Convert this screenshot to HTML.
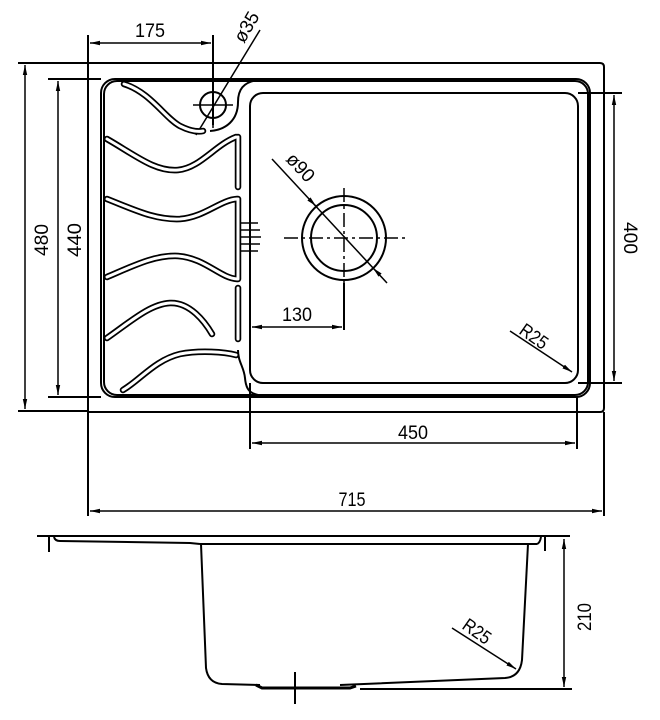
<!DOCTYPE html>
<html><head><meta charset="utf-8"><style>
html,body{margin:0;padding:0;background:#fff;}
svg{display:block;}
text{font-family:"Liberation Sans",sans-serif;font-size:19px;fill:#000;}
</style></head><body>
<svg width="660" height="720" viewBox="0 0 660 720" xmlns="http://www.w3.org/2000/svg">
<defs>
<marker id="a" viewBox="0 0 10 6" refX="10" refY="3" markerWidth="10" markerHeight="6" orient="auto-start-reverse" markerUnits="userSpaceOnUse"><path d="M0,0.8 L10,3 L0,5.2 z" fill="#000"/></marker>
</defs>
<g fill="none" stroke="#000" stroke-width="2">
<path d="M88,63 H600 Q604,63 604,67 V408 Q604,412 600,412 H88 Z"/>
<rect x="101" y="79" width="489" height="318" rx="14"/>
<rect x="104" y="81" width="484" height="314" rx="13"/>
<rect x="250" y="93" width="328" height="290" rx="13"/>
<line x1="18" y1="63" x2="88" y2="63"/>
<line x1="18" y1="411" x2="88" y2="411"/>
<line x1="48" y1="79" x2="101" y2="79"/>
<line x1="48" y1="397" x2="101" y2="397"/>
<line x1="578" y1="93" x2="622" y2="93"/>
<line x1="578" y1="383" x2="622" y2="383"/>
<line x1="88" y1="35" x2="88" y2="63"/>
<line x1="213" y1="35" x2="213" y2="125"/>
<line x1="250" y1="383" x2="250" y2="449"/>
<line x1="577" y1="397" x2="577" y2="449"/>
<line x1="88" y1="412" x2="88" y2="516"/>
<line x1="604" y1="412" x2="604" y2="516"/>
<line x1="344" y1="283" x2="344" y2="330"/>
</g>
<g fill="none" stroke="#000" stroke-width="1.5">
<line x1="25" y1="65" x2="25" y2="409" marker-start="url(#a)" marker-end="url(#a)"/>
<line x1="58" y1="81" x2="58" y2="395" marker-start="url(#a)" marker-end="url(#a)"/>
<line x1="614" y1="95" x2="614" y2="381" marker-start="url(#a)" marker-end="url(#a)"/>
<line x1="90" y1="43" x2="211" y2="43" marker-start="url(#a)" marker-end="url(#a)"/>
<line x1="252" y1="327" x2="342" y2="327" marker-start="url(#a)" marker-end="url(#a)"/>
<line x1="252" y1="443" x2="575" y2="443" marker-start="url(#a)" marker-end="url(#a)"/>
<line x1="90" y1="511" x2="602" y2="511" marker-start="url(#a)" marker-end="url(#a)"/>
<line x1="260" y1="30" x2="196" y2="135"/>
<line x1="272" y1="159" x2="387" y2="283"/>
<line x1="315" y1="205" x2="316" y2="206" marker-end="url(#a)"/>
<line x1="373" y1="268" x2="374" y2="269" marker-start="url(#a)"/>
<line x1="510" y1="331" x2="572" y2="372" marker-end="url(#a)"/>
</g>
<g stroke="#000" stroke-width="1.5" fill="none">
<line x1="284" y1="238" x2="405" y2="238" stroke-dasharray="14,4,3,4"/>
<line x1="344" y1="188" x2="344" y2="285" stroke-dasharray="14,4,3,4"/>
<line x1="193" y1="105" x2="233" y2="105"/>
<line x1="213" y1="92" x2="213" y2="128"/>
</g>
<g fill="none" stroke="#000" stroke-width="2">
<circle cx="344" cy="238" r="42"/>
<circle cx="344" cy="238" r="33"/>
<circle cx="213" cy="105" r="13"/>
<path d="M258,80 C243,82 238,90 238,102 C238,120 226,130 210,131"/>
<path d="M238,350 C238,362 244,367 245,378 C246,390 250,393 258,395"/>
</g>
<g fill="none" stroke-linecap="round">
<g stroke="#000" stroke-width="6.5">
<path d="M124,84 C150,92 165,118 180,126 C190,131 198,132 203,131"/>
<path d="M107,139 C135,155 155,172 178,170 C200,168 215,145 236,137"/>
<path d="M107,199 C135,210 155,220 180,219 C205,217 220,200 237,199"/>
<path d="M107,277 C135,265 155,255 178,256 C205,258 220,278 237,279"/>
<path d="M107,338 C130,322 150,304 170,303 C190,302 205,322 212,334"/>
<path d="M123,390 C140,380 155,360 180,354 C200,350 225,352 236,355"/>
<path d="M238,137 V187"/><path d="M238,199 V279"/><path d="M238,288 V339"/>
</g>
<g stroke="#fff" stroke-width="3">
<path d="M124,84 C150,92 165,118 180,126 C190,131 198,132 203,131"/>
<path d="M107,139 C135,155 155,172 178,170 C200,168 215,145 236,137"/>
<path d="M107,199 C135,210 155,220 180,219 C205,217 220,200 237,199"/>
<path d="M107,277 C135,265 155,255 178,256 C205,258 220,278 237,279"/>
<path d="M107,338 C130,322 150,304 170,303 C190,302 205,322 212,334"/>
<path d="M123,390 C140,380 155,360 180,354 C200,350 225,352 236,355"/>
<path d="M238,137 V187"/><path d="M238,199 V279"/><path d="M238,288 V339"/>
</g>
</g>
<g stroke="#000" stroke-width="1.6">
<line x1="240" y1="223" x2="258" y2="223"/><line x1="240" y1="230" x2="260" y2="230"/>
<line x1="240" y1="237" x2="261" y2="237"/><line x1="240" y1="244" x2="260" y2="244"/>
<line x1="240" y1="251" x2="258" y2="251"/>
</g>
<text x="150" y="37" text-anchor="middle" textLength="30" lengthAdjust="spacingAndGlyphs">175</text>
<text transform="translate(244,44) rotate(-60)" textLength="32" lengthAdjust="spacingAndGlyphs">ø35</text>
<text transform="translate(285,160) rotate(47)" textLength="32" lengthAdjust="spacingAndGlyphs">ø90</text>
<text x="297" y="321" text-anchor="middle" textLength="30" lengthAdjust="spacingAndGlyphs">130</text>
<text transform="translate(518,333) rotate(35)" textLength="30" lengthAdjust="spacingAndGlyphs">R25</text>
<text x="413" y="439" text-anchor="middle" textLength="30" lengthAdjust="spacingAndGlyphs">450</text>
<text x="352" y="506" text-anchor="middle" textLength="27" lengthAdjust="spacingAndGlyphs">715</text>
<text transform="translate(48,240) rotate(-90)" text-anchor="middle" textLength="32" lengthAdjust="spacingAndGlyphs">480</text>
<text transform="translate(81,240) rotate(-90)" text-anchor="middle" textLength="34" lengthAdjust="spacingAndGlyphs">440</text>
<text transform="translate(624,238) rotate(90)" text-anchor="middle" textLength="32" lengthAdjust="spacingAndGlyphs">400</text>
<g fill="none" stroke="#000" stroke-width="2">
<line x1="37" y1="536" x2="570" y2="536"/>
<line x1="200" y1="544" x2="537" y2="544"/>
<path d="M54,537 Q55,541 60,541 L190,543 L200,544"/>
<path d="M537,544 Q540,543 541,537"/>
<line x1="49" y1="536" x2="49" y2="552"/>
<line x1="545" y1="537" x2="545" y2="551"/>
<path d="M201,544 L206,668 Q208,683 222,684 L260,685"/>
<path d="M528,544 L522,660 Q520,677 505,678 L340,685"/>
<path d="M256,685 L262,688 H350 L356,686" stroke-width="3"/>
<line x1="295" y1="672" x2="295" y2="704"/>
<line x1="360" y1="689" x2="572" y2="689"/>
</g>
<g fill="none" stroke="#000" stroke-width="1.5">
<line x1="564" y1="539" x2="564" y2="687" marker-start="url(#a)" marker-end="url(#a)"/>
<line x1="452" y1="628" x2="516" y2="669" marker-end="url(#a)"/>
</g>
<text transform="translate(461,628) rotate(35)" textLength="30" lengthAdjust="spacingAndGlyphs">R25</text>
<text transform="translate(591,617) rotate(-90)" text-anchor="middle" textLength="28" lengthAdjust="spacingAndGlyphs">210</text>
</svg>
</body></html>
